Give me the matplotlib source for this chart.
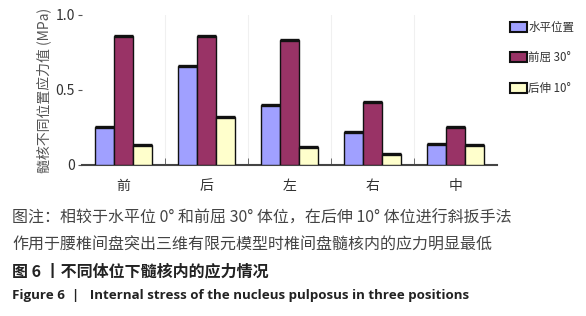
import numpy as np
import matplotlib.pyplot as plt
from matplotlib.patches import Patch

plt.rcParams['font.family'] = ['Noto Sans CJK SC', 'DejaVu Sans']

# data
groups = ['前', '后', '左', '右', '中']
series = ['水平位置', '前屈 30°', '后伸 10°']
horizontal = [0.25, 0.66, 0.40, 0.22, 0.14]
flexion30 = [0.86, 0.86, 0.83, 0.42, 0.25]
extension10 = [0.13, 0.32, 0.12, 0.07, 0.13]
colors = ['#A0A0FF', '#993366', '#FFFFCC']

fig = plt.figure(figsize=(5.86, 3.16), dpi=100)
ax = fig.add_axes([0.140, 0.478, 0.708, 0.4747])

x = np.arange(len(groups))
w = 0.23
for i, vals in enumerate([horizontal, flexion30, extension10]):
    pos = x + (i - 1) * w
    ax.bar(pos, vals, width=w, color=colors[i], edgecolor='#111111', linewidth=1.0, zorder=3)
    # thick top edge like the source
    ax.hlines(vals, pos - w / 2, pos + w / 2, colors='#111111', linewidth=2.4, zorder=4)

ax.set_xlim(-0.5, len(groups) - 0.5)
ax.set_ylim(0, 1.0)
ax.set_yticks([0, 0.5, 1.0])
ax.set_yticklabels(['0', '0.5', '1.0'])
ax.set_xticks(x)
ax.set_xticklabels(groups)
ax.set_xticks(x[:-1] + 0.5, minor=True)
ax.tick_params(axis='x', which='major', length=0, pad=10, labelsize=10, labelcolor='#333333')
ax.tick_params(axis='x', which='minor', direction='in', length=5, color='#555555')
ax.tick_params(axis='y', length=3, labelsize=10, labelcolor='#333333', color='#555555', pad=2)
for xb in x[:-1] + 0.5:
    ax.axvline(xb, color='#f0f0f0', linewidth=0.8, zorder=0)

for s in ['top', 'right', 'left']:
    ax.spines[s].set_visible(False)
ax.spines['bottom'].set_color('#444444')
ax.spines['bottom'].set_linewidth(1.5)

ax.set_ylabel('髓核不同位置应力值 (MPa)', fontsize=10, color='#555555', labelpad=3)

handles = [Patch(facecolor=c, edgecolor='#111111', linewidth=1.5) for c in colors]
fig.legend(handles, series, loc='upper left', bbox_to_anchor=(0.870, 0.935), frameon=False,
           borderpad=0, borderaxespad=0,
           fontsize=8.3, labelspacing=1.55, handlelength=1.45, handleheight=0.95, handletextpad=0.15,
           labelcolor='#333333')

# caption
fig.text(12 / 586, 1 - 218 / 316, '图注：相较于水平位 0° 和前屈 30° 体位，在后伸 10° 体位进行斜扳手法',
         fontsize=11.5, color='#444444', va='center')
fig.text(12 / 586, 1 - 245 / 316, '作用于腰椎间盘突出三维有限元模型时椎间盘髓核内的应力明显最低',
         fontsize=11.5, color='#444444', va='center')
fig.text(12 / 586, 1 - 271 / 316, '图 6 丨不同体位下髓核内的应力情况',
         fontsize=11.5, color='#222222', va='center', fontweight='bold')
fig.text(12 / 586, 1 - 296 / 316, 'Figure 6  |   Internal stress of the nucleus pulposus in three positions',
         fontsize=9.6, color='#222222', va='center', fontweight='bold', family=['Open Sans', 'DejaVu Sans'])

fig.savefig('out.png', dpi=100)
